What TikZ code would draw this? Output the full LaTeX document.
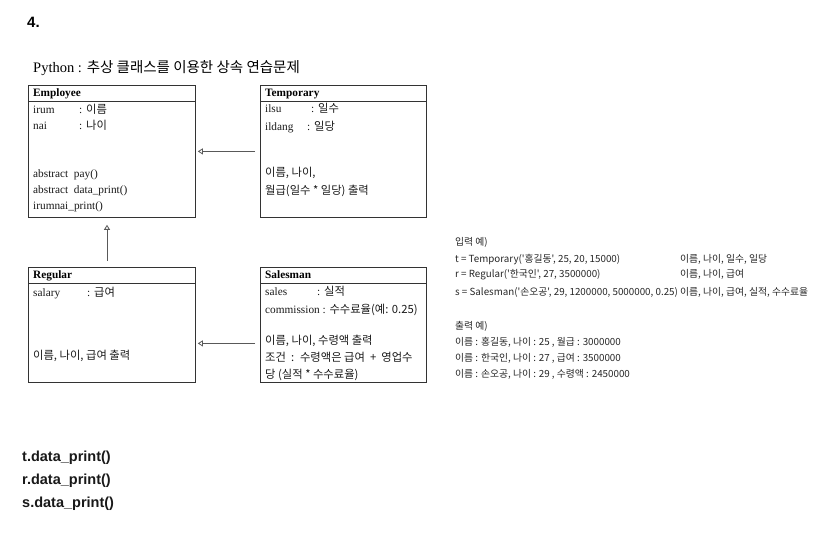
\documentclass[tikz,border=0pt]{standalone}
\usepackage{fontspec}
\setmainfont{Liberation Serif}
\newfontfamily\ko{Noto Sans CJK KR}
\newfontfamily\nsans{Liberation Sans}
\usetikzlibrary{arrows.meta,calc}
\tikzset{
  box/.style={draw=black!80, line width=0.8pt, anchor=north west, inner sep=0pt},
  txt/.style={anchor=base west, inner sep=0pt, font=\fontsize{11.3}{13}\selectfont, text=black!90},
  hdr/.style={anchor=base west, inner sep=0pt, font=\fontsize{11.3}{13}\selectfont\bfseries},
  side/.style={anchor=base west, inner sep=0pt, font=\ko\fontsize{9.8}{11}\selectfont, text=black!85},
  code/.style={anchor=base west, inner sep=0pt, font=\nsans\bfseries\fontsize{14.5}{16}\selectfont, text=black!90},
  inh/.style={draw=black!65, line width=0.8pt, -{Triangle[open, length=5pt, width=6pt]}},
}
\begin{document}
\begin{tikzpicture}[x=1pt,y=-1pt]
\useasboundingbox (0,0) rectangle (825,548);
% title
\node[anchor=base west, inner sep=0pt, font=\nsans\bfseries\fontsize{15}{17}\selectfont] (num) at (27,28) {4.};
\node[anchor=base west, inner sep=0pt, font=\fontsize{14.5}{16}\selectfont] (ttl) at (33,73) {Python : {\ko 추상 클래스를 이용한 상속 연습문제}};
% boxes
\node[box, minimum width=167pt, minimum height=132pt] (emp) at (28,85) {};
\node[box, minimum width=166pt, minimum height=132pt] (tmp) at (260,85) {};
\node[box, minimum width=167pt, minimum height=115pt] (reg) at (28,267) {};
\node[box, minimum width=166pt, minimum height=115pt] (sal) at (260,267) {};
\foreach \b in {emp,tmp,reg,sal}{
  \draw[black!80, line width=0.8pt] ($(\b.north west)+(0,16)$) -- ($(\b.north east)+(0,16)$);
}
% Employee
\node[hdr] (empH) at (33,97) {Employee};
\node[txt] (e1) at (33,114) {irum};
\node[txt] (e1b) at (79,114) {: {\ko 이름}};
\node[txt] (e2) at (33,130) {nai};
\node[txt] (e2b) at (79,130) {: {\ko 나이}};
\node[txt] (e3) at (33,178) {abstract\ \ pay()};
\node[txt] (e4) at (33,194) {abstract\ \ data\_print()};
\node[txt] (e5) at (33,210) {irumnai\_print()};
% Temporary
\node[hdr] (tmpH) at (265,97) {Temporary};
\node[txt] (t1) at (265,113) {ilsu};
\node[txt] (t1b) at (311,113) {: {\ko 일수}};
\node[txt] (t2) at (265,131) {ildang};
\node[txt] (t2b) at (307,131) {: {\ko 일당}};
\node[txt] (t3) at (265,177) {{\ko 이름, 나이,}};
\node[txt] (t4) at (265,195) {{\ko 월급(일수 * 일당) 출력}};
% Regular
\node[hdr] (regH) at (33,279) {Regular};
\node[txt] (r1) at (33,296) {salary};
\node[txt] (r1b) at (87,296) {: {\ko 급여}};
\node[txt] (r2) at (33,359) {{\ko 이름, 나이, 급여 출력}};
% Salesman
\node[hdr] (salH) at (265,279) {Salesman};
\node[txt] (s1) at (265,295) {sales};
\node[txt] (s1b) at (317,295) {: {\ko 실적}};
\node[txt] (s2) at (265,313) {commission : {\ko 수수료율(예: 0.25)}};
\node[txt] (s3) at (265,344) {{\ko 이름, 나이, 수령액 출력}};
\node[txt] (s4) at (265,361) {{\ko 조건 \ : \ 수령액은 급여 \ + \ 영업수}};
\node[txt] (s5) at (265,378) {{\ko 당 (실적 * 수수료율)}};
% connectors
\draw[inh] ([xshift=-5pt]tmp.west) -- ([xshift=2pt]emp.east);
\draw[inh] ([shift={(-5,18.5)}]sal.west) -- ([shift={(2,18.5)}]reg.east);
\draw[inh] ([shift={(79,-6)}]reg.north west) -- ([shift={(79,7)}]emp.south west);
% side text
\node[side] (i0) at (455,246) {입력 예)};
\node[side] (i1) at (455,262) {t = Temporary('홍길동', 25, 20, 15000)};
\node[side] (i2) at (455,278) {r = Regular('한국인', 27, 3500000)};
\node[side] (i3) at (455,295) {s = Salesman('손오공', 29, 1200000, 5000000, 0.25)};
\node[side] (j1) at (680,262) {이름, 나이, 일수, 일당};
\node[side] (j2) at (680,278) {이름, 나이, 급여};
\node[side] (j3) at (680,295) {이름, 나이, 급여, 실적, 수수료율};
\node[side] (o0) at (455,329) {출력 예)};
\node[side] (o1) at (455,345) {이름 : 홍길동, 나이 : 25 , 월급 : 3000000};
\node[side] (o2) at (455,361) {이름 : 한국인, 나이 : 27 , 급여 : 3500000};
\node[side] (o3) at (455,377) {이름 : 손오공, 나이 : 29 , 수령액 : 2450000};
% code
\node[code] (c1) at (22,461) {t.data\_print()};
\node[code] (c2) at (22,484) {r.data\_print()};
\node[code] (c3) at (22,507) {s.data\_print()};
\end{tikzpicture}
\end{document}
